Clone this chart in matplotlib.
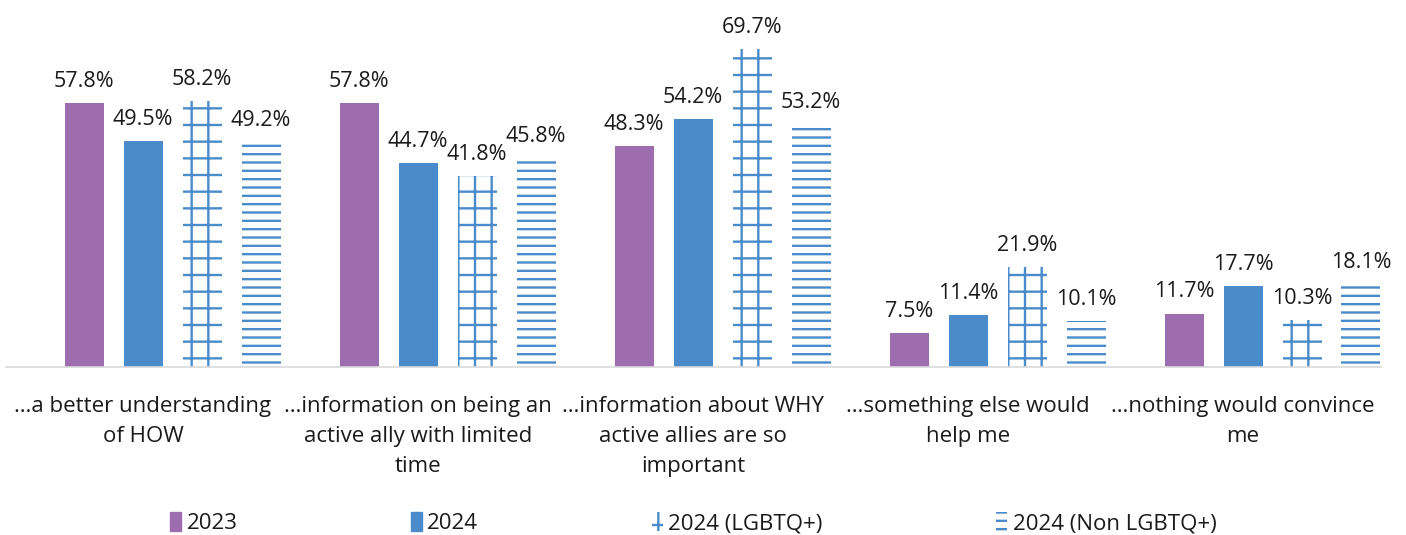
import numpy as np
import matplotlib.pyplot as plt
from matplotlib.patches import Patch

plt.rcParams['font.family'] = ['Open Sans', 'DejaVu Sans']
plt.rcParams['hatch.linewidth'] = 1.7

# data
categories = [
    "…a better understanding\nof HOW",
    "…information on being an\nactive ally with limited\ntime",
    "…information about WHY\nactive allies are so\nimportant",
    "…something else would\nhelp me",
    "…nothing would convince\nme",
]
series_names = ["2023", "2024", "2024 (LGBTQ+)", "2024 (Non LGBTQ+)"]
vals_2023 = [57.8, 57.8, 48.3, 7.5, 11.7]
vals_2024 = [49.5, 44.7, 54.2, 11.4, 17.7]
vals_lgbtq = [58.2, 41.8, 69.7, 21.9, 10.3]
vals_non_lgbtq = [49.2, 45.8, 53.2, 10.1, 18.1]

purple = "#9e6db0"
blue = "#4a8ccb"
txt = "#1a1a1a"

fig = plt.figure(figsize=(14.06, 5.35), dpi=100)
ax = fig.add_axes([5.5 / 1406, 0.314, 1375 / 1406, 0.683])

x = np.arange(len(categories))
step = 59 / 275
width = 39 / 275

styles = [
    dict(color=purple, linewidth=0),
    dict(color=blue, linewidth=0),
    dict(facecolor="none", edgecolor=blue, linewidth=0, hatch="+"),
    dict(facecolor="none", edgecolor=blue, linewidth=0, hatch="--"),
]
all_vals = [vals_2023, vals_2024, vals_lgbtq, vals_non_lgbtq]

for k, (vals, st) in enumerate(zip(all_vals, styles)):
    pos = x + (k - 1) * step
    ax.bar(pos, vals, width, label=series_names[k], **st)
    for px, v in zip(pos, vals):
        ax.annotate(f"{v}%", (px, v), xytext=(0, 8), textcoords="offset points",
                    ha="center", va="bottom", fontsize=15.5, color=txt)

ax.set_xlim(-0.5, 4.5)
ax.set_ylim(0, 80)
ax.set_yticks([])
ax.set_xticks(x)
ax.set_xticklabels(categories, fontsize=16, color=txt, linespacing=1.55)
ax.tick_params(axis="x", length=0, pad=21)
for s in ["top", "left", "right"]:
    ax.spines[s].set_visible(False)
ax.spines["bottom"].set_color("#d9d9d9")
ax.spines["bottom"].set_linewidth(1.2)

handles = [
    Patch(color=purple, label=series_names[0]),
    Patch(color=blue, label=series_names[1]),
    Patch(facecolor="none", edgecolor=blue, linewidth=0, hatch="+", label=series_names[2]),
    Patch(facecolor="none", edgecolor=blue, linewidth=0, hatch="--", label=series_names[3]),
]
fig.legend(handles=handles, loc="center", bbox_to_anchor=(0.493, 0.022), ncol=4,
           frameon=False, fontsize=16, handlelength=0.5, handleheight=0.9,
           handletextpad=0.25, columnspacing=7.8, labelcolor=txt)

fig.savefig("out.png", dpi=100)
